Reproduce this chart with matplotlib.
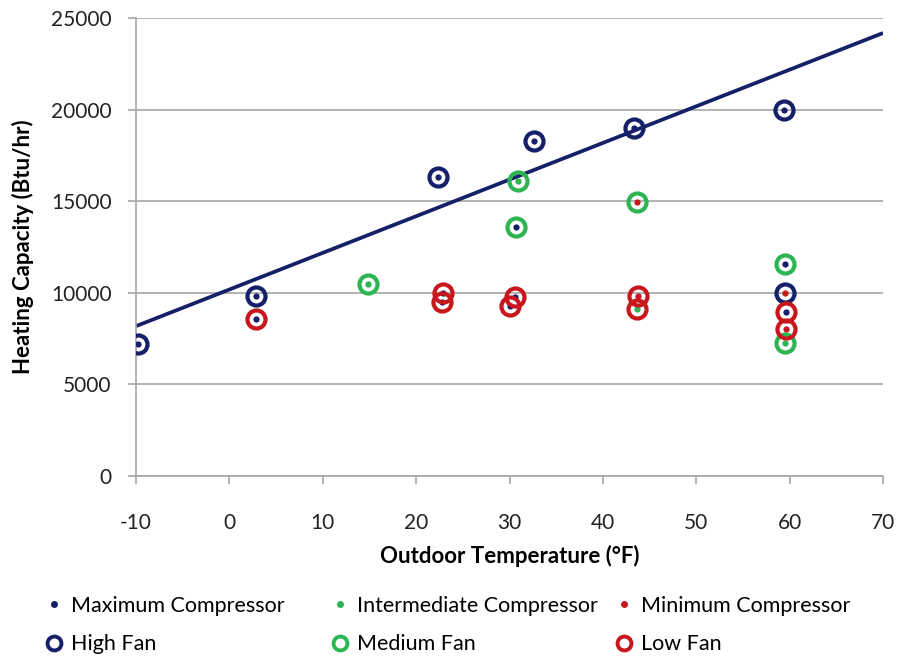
import matplotlib
matplotlib.use("Agg")
import matplotlib.pyplot as plt
from matplotlib.lines import Line2D

plt.rcParams['font.family'] = ['Lato', 'DejaVu Sans']

# Ring series (fan speed)
high_fan_x = [-9.8, 2.8, 22.3, 32.6, 43.3, 59.4, 59.5]
high_fan_y = [7200, 9800, 16300, 18300, 19000, 20000, 10000]
medium_fan_x = [14.8, 30.9, 30.7, 43.7, 59.5, 59.5]
medium_fan_y = [10500, 16100, 13600, 14950, 11550, 7250]
low_fan_x = [2.8, 22.9, 22.8, 30.0, 30.6, 43.8, 43.7, 59.6, 59.6]
low_fan_y = [8550, 10000, 9500, 9300, 9750, 9800, 9100, 8950, 8000]

# Dot series (compressor stage)
max_comp_x = [-9.8, 2.8, 2.8, 22.3, 22.9, 22.8, 30.0, 30.6, 30.7, 32.6, 43.3, 59.4, 59.5, 59.6]
max_comp_y = [7200, 9800, 8550, 16300, 10000, 9500, 9300, 9750, 13600, 18300, 19000, 20000, 11550, 8950]
inter_comp_x = [14.8, 30.9, 43.7, 59.5]
inter_comp_y = [10500, 16100, 9100, 7250]
min_comp_x = [43.7, 43.8, 59.5, 59.6]
min_comp_y = [14950, 9800, 10000, 8000]

# Linear trend line
trend_x = [-10, 70]
trend_y = [8180, 24180]

x_ticks = [-10, 0, 10, 20, 30, 40, 50, 60, 70]
y_ticks = [0, 5000, 10000, 15000, 20000, 25000]

BLUE = '#152068'
GREEN = '#2db453'
RED = '#c8161d'
GRID = '#a6a6a6'

fig = plt.figure(figsize=(8.98, 6.58), dpi=100)
ax = fig.add_axes([136/898, 1-476/658, (883-136)/898, (476-18)/658])

ax.plot(trend_x, trend_y, color=BLUE, lw=2.7, zorder=2, solid_capstyle='butt')

ring_kw = dict(ls='none', marker='o', ms=13, mfc='none', mew=3.0)
dot_kw = dict(ls='none', marker='o', ms=4.5, mew=0)

ax.plot(max_comp_x, max_comp_y, color=BLUE, zorder=3, **dot_kw)
ax.plot(inter_comp_x, inter_comp_y, color=GREEN, zorder=3, **dot_kw)
ax.plot(min_comp_x, min_comp_y, color=RED, zorder=3, **dot_kw)
ax.plot(high_fan_x, high_fan_y, color=BLUE, zorder=4, **ring_kw)
ax.plot(medium_fan_x, medium_fan_y, color=GREEN, zorder=4, **ring_kw)
ax.plot(low_fan_x, low_fan_y, color=RED, zorder=4, **ring_kw)

ax.set_xlim(-10, 70)
ax.set_ylim(0, 25000)
ax.set_xticks(x_ticks)
ax.set_yticks(y_ticks)
ax.set_xticklabels([str(t) for t in x_ticks])
ax.set_yticklabels([str(t) for t in y_ticks])
ax.yaxis.grid(True, color=GRID, lw=1.2)
ax.set_axisbelow(True)
for s in ['top', 'right']:
    ax.spines[s].set_visible(False)
for s in ['left', 'bottom']:
    ax.spines[s].set_color(GRID)
    ax.spines[s].set_linewidth(1.2)
ax.tick_params(axis='both', colors=GRID, length=5.5, width=1.2, labelsize=15,
               labelcolor='#222222')
ax.tick_params(axis='x', pad=21)
ax.tick_params(axis='y', pad=12)

ax.set_xlabel('Outdoor Temperature (°F)', fontsize=16, fontweight='bold', labelpad=9)
ax.set_ylabel('Heating Capacity (Btu/hr)', fontsize=16, fontweight='bold', labelpad=12)

def mk_dot(c):
    return Line2D([], [], ls='none', marker='o', ms=5, mew=0, color=c)

def mk_ring(c):
    return Line2D([], [], ls='none', marker='o', ms=10, mfc='none', mew=2.8, color=c)

cols = [
    (mk_dot(BLUE), 'Maximum Compressor', mk_ring(BLUE), 'High Fan', 57),
    (mk_dot(GREEN), 'Intermediate Compressor', mk_ring(GREEN), 'Medium Fan', 343),
    (mk_dot(RED), 'Minimum Compressor', mk_ring(RED), 'Low Fan', 627),
]
for h1, l1, h2, l2, xm in cols:
    fig.legend([h1, h2], [l1, l2], loc='center left',
               bbox_to_anchor=((xm - 14) / 898, 1 - 625 / 658),
               frameon=False, fontsize=15.5, handlelength=1.0, handletextpad=0.3,
               labelspacing=0.85, borderpad=0, borderaxespad=0)

fig.savefig('out.png', dpi=100)
